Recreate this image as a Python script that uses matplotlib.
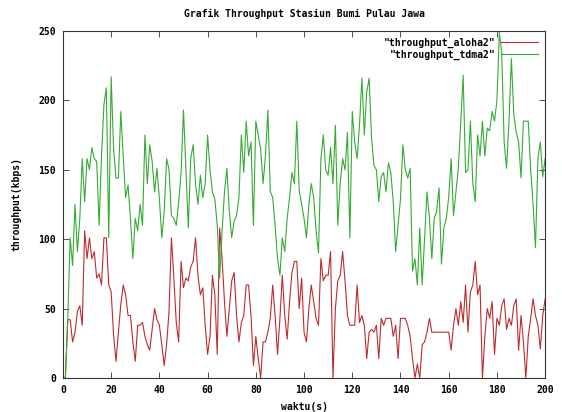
import matplotlib
matplotlib.use("Agg")
import matplotlib.pyplot as plt

waktu = list(range(0, 201))

throughput_tdma2 = [
    0, 0, 43, 101, 81, 125, 91, 115, 158, 127,
    158, 150, 166, 158, 156, 110, 160, 197, 209, 101,
    217, 165, 144, 144, 192, 160, 130, 139, 115, 86,
    115, 106, 125, 110, 175, 140, 168, 156, 134, 151,
    129, 101, 120, 158, 150, 117, 115, 110, 127, 148,
    193, 150, 108, 158, 168, 140, 125, 146, 130, 140,
    175, 150, 134, 129, 110, 72, 106, 134, 151, 120,
    101, 113, 117, 130, 175, 148, 185, 160, 170, 110,
    185, 175, 165, 140, 160, 193, 134, 130, 110, 86,
    74, 101, 91, 115, 130, 148, 140, 185, 135, 125,
    115, 101, 125, 140, 130, 106, 90, 158, 175, 150,
    146, 166, 140, 182, 110, 140, 158, 150, 177, 101,
    192, 170, 158, 182, 216, 175, 206, 216, 173, 153,
    150, 127, 145, 148, 134, 155, 148, 127, 91, 110,
    129, 168, 150, 144, 151, 77, 86, 67, 108, 67,
    101, 134, 115, 86, 115, 120, 137, 82, 108, 115,
    130, 158, 117, 134, 151, 185, 218, 148, 150, 185,
    140, 127, 175, 160, 185, 160, 180, 178, 192, 185,
    200, 249, 234, 170, 151, 185, 230, 190, 177, 170,
    144, 185, 185, 185, 150, 125, 94, 158, 170, 145,
    158,
]

throughput_aloha2 = [
    0, 0, 42, 42, 26, 33, 48, 52, 38, 106,
    86, 101, 86, 91, 72, 75, 67, 101, 101, 67,
    62, 31, 12, 33, 53, 67, 60, 45, 45, 26,
    12, 38, 38, 40, 30, 24, 20, 35, 50, 42,
    38, 24, 9, 24, 48, 101, 72, 40, 26, 84,
    65, 72, 70, 80, 84, 101, 74, 60, 65, 38,
    17, 30, 74, 60, 17, 108, 86, 55, 30, 50,
    70, 76, 45, 26, 40, 45, 67, 67, 45, 9,
    30, 14, 0, 26, 26, 33, 43, 67, 45, 17,
    43, 74, 45, 28, 55, 76, 84, 84, 50, 72,
    33, 26, 50, 67, 55, 43, 38, 86, 70, 74,
    74, 91, 0, 50, 70, 74, 91, 70, 45, 38,
    38, 38, 67, 40, 45, 38, 14, 33, 35, 33,
    38, 14, 43, 38, 43, 43, 43, 30, 38, 14,
    43, 43, 43, 38, 30, 14, 0, 10, 0, 24,
    26, 33, 43, 33, 33, 33, 33, 33, 33, 33,
    33, 20, 38, 50, 38, 55, 40, 67, 33, 62,
    67, 84, 60, 67, 0, 30, 50, 43, 55, 17,
    43, 38, 52, 57, 35, 43, 38, 52, 57, 20,
    45, 26, 0, 30, 43, 57, 45, 38, 21, 45,
    57,
]

x_ticks = [0, 20, 40, 60, 80, 100, 120, 140, 160, 180, 200]
y_ticks = [0, 50, 100, 150, 200, 250]

plt.rcParams["font.family"] = "DejaVu Sans Mono"
plt.rcParams["font.weight"] = "bold"
plt.rcParams["font.size"] = 7

fig = plt.figure(figsize=(5.62, 4.12), dpi=100)
ax = fig.add_axes([0.112, 0.0825, 0.858, 0.8425])

ax.plot(waktu, throughput_aloha2, color="#bf2a2e", lw=0.8, label='"throughput_aloha2"')
ax.plot(waktu, throughput_tdma2, color="#34ab34", lw=0.8, label='"throughput_tdma2"')

ax.set_xlim(0, 200)
ax.set_ylim(0, 250)
ax.set_xticks(x_ticks)
ax.set_yticks(y_ticks)
ax.tick_params(direction="in", length=4, width=0.6, top=True, right=True,
               colors="#333333", labelcolor="black", labelsize=7, pad=5)
for s in ax.spines.values():
    s.set_color("#333333")
    s.set_linewidth(0.8)

ax.set_title("Grafik Throughput Stasiun Bumi Pulau Jawa", fontsize=7,
             fontweight="bold", pad=10)
ax.set_xlabel("waktu(s)", fontsize=7, fontweight="bold", labelpad=5)
ax.set_ylabel("throughput(kbps)", fontsize=7, fontweight="bold", labelpad=12)

ax.legend(loc="upper right", bbox_to_anchor=(1.0, 1.0), markerfirst=False,
          frameon=False, handlelength=3.8, handletextpad=0.6,
          labelspacing=0.2, borderaxespad=0.3, prop={"size": 7, "weight": "bold"})

fig.savefig("out.png", dpi=100)
